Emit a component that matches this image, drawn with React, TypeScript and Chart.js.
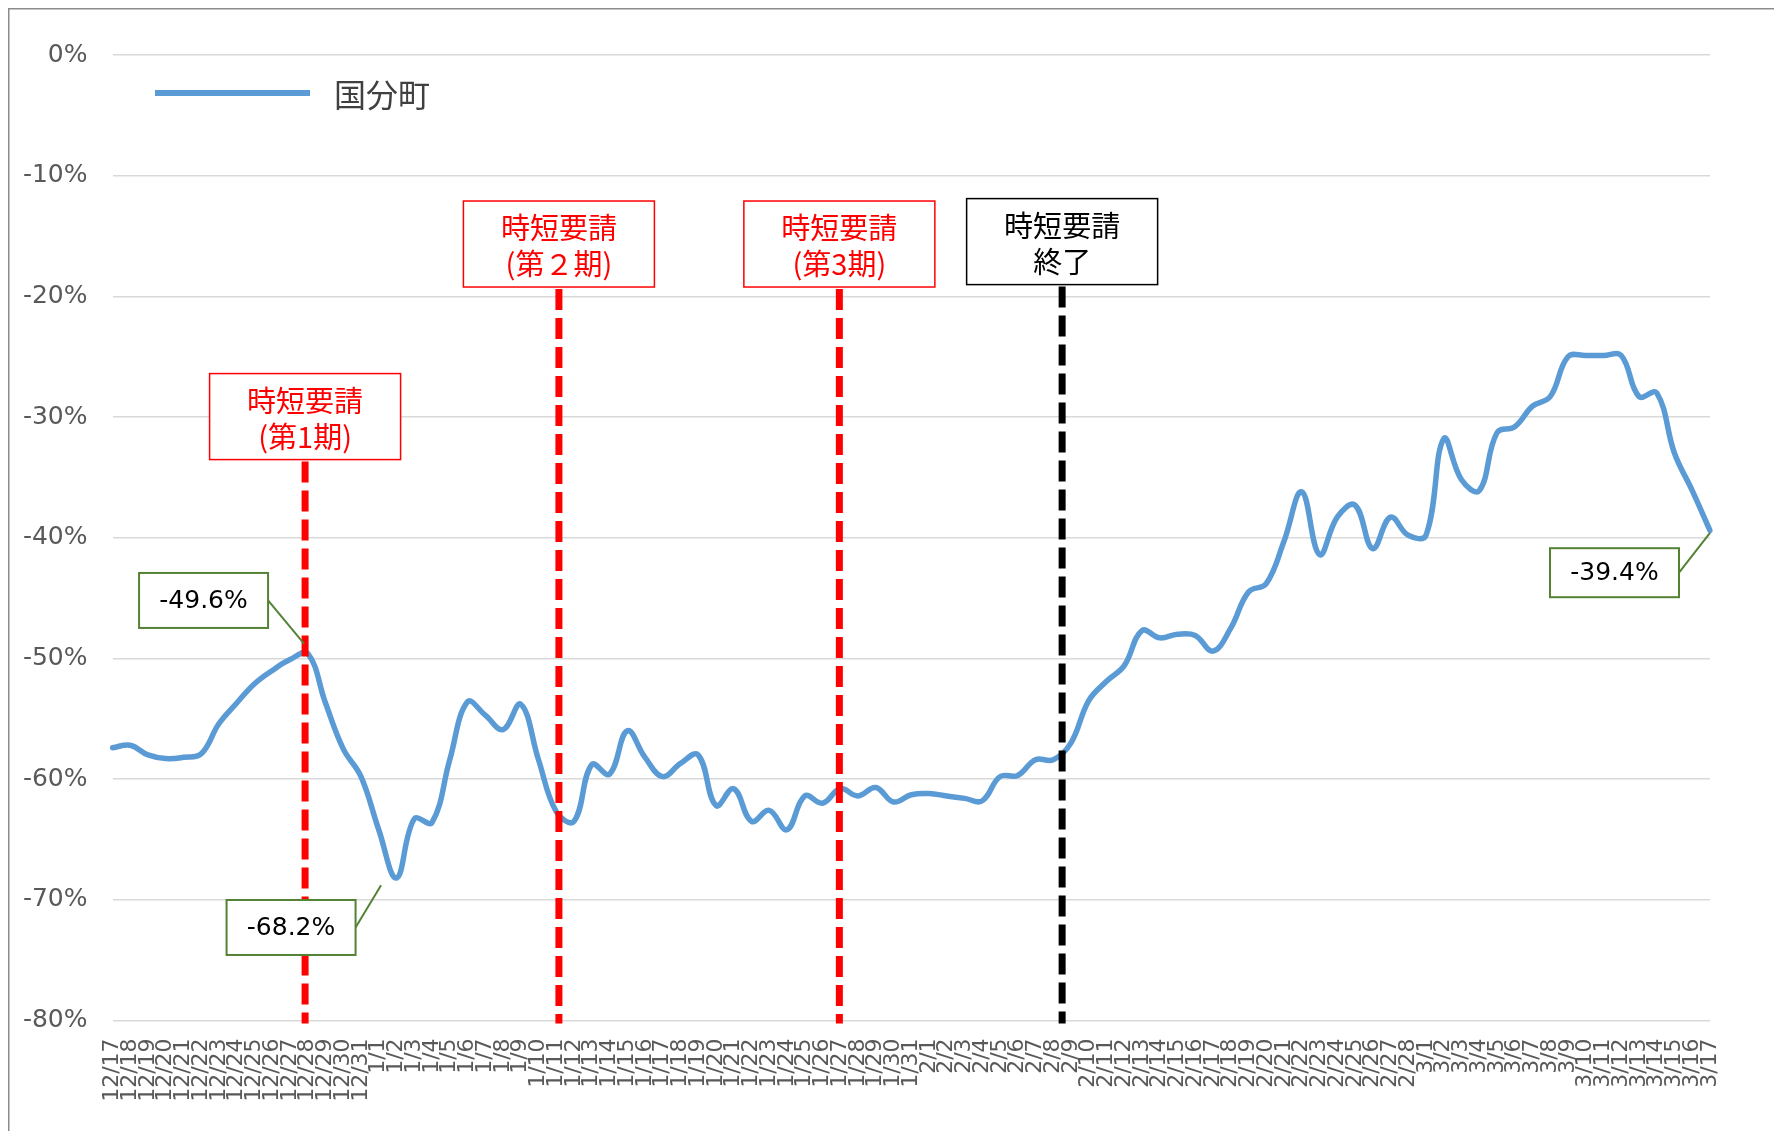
import React, { useEffect, useRef } from "react";
import { Chart, registerables } from "chart.js";

Chart.register(...registerables);

// ---------- data ----------
const dates: string[] = [
  "12/17", "12/18", "12/19", "12/20", "12/21", "12/22", "12/23", "12/24", "12/25", "12/26",
  "12/27", "12/28", "12/29", "12/30", "12/31",
  "1/1", "1/2", "1/3", "1/4", "1/5", "1/6", "1/7", "1/8", "1/9", "1/10",
  "1/11", "1/12", "1/13", "1/14", "1/15", "1/16", "1/17", "1/18", "1/19", "1/20",
  "1/21", "1/22", "1/23", "1/24", "1/25", "1/26", "1/27", "1/28", "1/29", "1/30", "1/31",
  "2/1", "2/2", "2/3", "2/4", "2/5", "2/6", "2/7", "2/8", "2/9", "2/10",
  "2/11", "2/12", "2/13", "2/14", "2/15", "2/16", "2/17", "2/18", "2/19", "2/20",
  "2/21", "2/22", "2/23", "2/24", "2/25", "2/26", "2/27", "2/28",
  "3/1", "3/2", "3/3", "3/4", "3/5", "3/6", "3/7", "3/8", "3/9", "3/10",
  "3/11", "3/12", "3/13", "3/14", "3/15", "3/16", "3/17",
];

const kokubunchoValues: number[] = [
  -57.4, -57.2, -58.0, -58.3, -58.2, -57.9, -55.4, -53.7, -52.1, -51.0,
  -50.1, -49.6, -53.7, -57.5, -59.8,
  -64.2, -68.2, -63.3, -63.6, -58.4, -53.6, -54.7, -55.9, -53.8, -58.4,
  -62.7, -63.5, -58.8, -59.6, -56.0, -58.2, -59.8, -58.7, -58.0, -62.2,
  -60.8, -63.5, -62.6, -64.2, -61.4, -62.0, -60.8, -61.4, -60.7, -61.9, -61.3,
  -61.2, -61.4, -61.6, -61.8, -59.8, -59.7, -58.4, -58.4, -57.0, -53.5,
  -51.9, -50.6, -47.7, -48.3, -48.0, -48.1, -49.4, -47.5, -44.5, -43.8,
  -40.3, -36.2, -41.4, -38.3, -37.3, -40.9, -38.3, -39.8,
  -39.8, -31.8, -35.2, -36.1, -31.3, -30.8, -29.1, -28.3, -25.0, -24.9,
  -24.9, -24.9, -28.3, -28.0, -33.0, -36.1, -39.4,
];

const seriesName = "国分町";

const yMin = -80;
const yMax = 0;
const yStep = 10;

// event markers: category position, label lines, colour, box top (value units)
const eventPositions: number[] = [10.85, 25.15, 40.95, 53.5];
const eventLabels: string[][] = [
  ["時短要請", "(第1期)"],
  ["時短要請", "(第２期)"],
  ["時短要請", "(第3期)"],
  ["時短要請", "終了"],
];
const eventColors: string[] = ["#ff0000", "#ff0000", "#ff0000", "#000000"];
const eventBoxTops: number[] = [-26.4, -12.1, -12.1, -11.9];

// callouts: which data point, where the box sits (category, value)
const calloutIndices: number[] = [11, 16, 90];
const calloutBoxX: number[] = [5.13, 10.06, 84.62];
const calloutBoxY: number[] = [-45.2, -72.3, -42.9];
const calloutBoxH: number[] = [55, 55, 49];
const calloutTargetX: number[] = [10.8, 15.13, 90];
const calloutTargetY: number[] = [-48.8, -68.8, -39.6];

// ---------- styles ----------
const LINE_COLOR = "#5b9bd5";
const GRID_COLOR = "#d9d9d9";
const TICK_COLOR = "#595959";
const GREEN = "#548235";
const LATIN = '"DejaVu Sans", "Noto Sans CJK JP", sans-serif';
const CJK = '"Noto Sans CJK JP", "DejaVu Sans", sans-serif';

const decorPlugin = {
  id: "decor",
  beforeDraw(chart: any) {
    const ctx = chart.ctx as CanvasRenderingContext2D;
    ctx.save();
    ctx.fillStyle = "#ffffff";
    ctx.fillRect(0, 0, chart.width, chart.height);
    ctx.strokeStyle = "#8c8c8c";
    ctx.lineWidth = 1.5;
    ctx.beginPath();
    ctx.moveTo(8.75, chart.height + 5);
    ctx.lineTo(8.75, 8.75);
    ctx.lineTo(chart.width + 5, 8.75);
    ctx.stroke();
    ctx.restore();
  },
  afterDatasetsDraw(chart: any) {
    const ctx = chart.ctx as CanvasRenderingContext2D;
    const { x, y } = chart.scales;
    const area = chart.chartArea;

    // legend
    ctx.save();
    ctx.strokeStyle = LINE_COLOR;
    ctx.lineWidth = 6;
    ctx.lineCap = "butt";
    ctx.beginPath();
    ctx.moveTo(155, 93);
    ctx.lineTo(310, 93);
    ctx.stroke();
    ctx.fillStyle = "#404040";
    ctx.font = `32px ${CJK}`;
    ctx.textAlign = "left";
    ctx.textBaseline = "middle";
    ctx.fillText(seriesName, 334, 95);
    ctx.restore();

    // event markers
    const bw = 191;
    const bh = 86;
    eventPositions.forEach((pos, k) => {
      const cx = x.getPixelForValue(pos);
      const top = y.getPixelForValue(eventBoxTops[k]);
      const color = eventColors[k];
      ctx.save();
      ctx.strokeStyle = color;
      ctx.lineWidth = 7;
      ctx.lineCap = "butt";
      ctx.setLineDash([21, 8]);
      ctx.beginPath();
      ctx.moveTo(cx, top + bh + 2);
      ctx.lineTo(cx, area.bottom + 3);
      ctx.stroke();
      ctx.setLineDash([]);
      ctx.fillStyle = "#ffffff";
      ctx.fillRect(cx - bw / 2, top, bw, bh);
      ctx.lineWidth = 1.5;
      ctx.strokeRect(cx - bw / 2, top, bw, bh);
      ctx.fillStyle = color;
      ctx.font = `29px ${CJK}`;
      ctx.textAlign = "center";
      ctx.textBaseline = "middle";
      ctx.fillText(eventLabels[k][0], cx, top + 27);
      ctx.fillText(eventLabels[k][1], cx, top + 63);
      ctx.restore();
    });

    // callouts
    const cw = 129;
    calloutIndices.forEach((idx, k) => {
      const ch = calloutBoxH[k];
      const bx = x.getPixelForValue(calloutBoxX[k]);
      const by = y.getPixelForValue(calloutBoxY[k]);
      const tx = x.getPixelForValue(calloutTargetX[k]);
      const ty = y.getPixelForValue(calloutTargetY[k]);
      ctx.save();
      ctx.strokeStyle = GREEN;
      ctx.lineWidth = 2;
      ctx.beginPath();
      ctx.moveTo(bx + cw / 2, by);
      ctx.lineTo(tx, ty);
      ctx.stroke();
      ctx.fillStyle = "#ffffff";
      ctx.fillRect(bx - cw / 2, by - ch / 2, cw, ch);
      ctx.strokeRect(bx - cw / 2, by - ch / 2, cw, ch);
      ctx.fillStyle = "#000000";
      ctx.font = `25px ${LATIN}`;
      ctx.textAlign = "center";
      ctx.textBaseline = "middle";
      ctx.fillText(kokubunchoValues[idx].toFixed(1) + "%", bx, by + 1);
      ctx.restore();
    });
  },
};

export default function App() {
  const canvasRef = useRef<HTMLCanvasElement | null>(null);

  useEffect(() => {
    document.body.style.margin = "0";
    document.body.style.overflow = "hidden";
    const canvas = canvasRef.current;
    if (!canvas) return;
    const chart = new Chart(canvas, {
      type: "line",
      data: {
        labels: dates,
        datasets: [
          {
            label: seriesName,
            data: kokubunchoValues,
            borderColor: LINE_COLOR,
            borderWidth: 5.5,
            pointRadius: 0,
            tension: 0.4,
            fill: false,
            borderCapStyle: "round",
            borderJoinStyle: "round",
          },
        ],
      },
      options: {
        responsive: false,
        animation: false,
        devicePixelRatio: 1,
        layout: { padding: { left: 0, right: 64, top: 55, bottom: 0 } },
        plugins: {
          legend: { display: false },
          tooltip: { enabled: false },
        },
        scales: {
          x: {
            type: "category",
            offset: false,
            grid: { display: false, drawTicks: false },
            border: { display: false },
            ticks: {
              autoSkip: false,
              minRotation: 90,
              maxRotation: 90,
              padding: 18,
              color: TICK_COLOR,
              font: { family: LATIN, size: 22 },
            },
            afterFit: (scale: any) => {
              scale.height = 110.6;
            },
          },
          y: {
            min: yMin,
            max: yMax,
            grid: { color: GRID_COLOR, lineWidth: 1.5, drawTicks: false },
            border: { display: false },
            ticks: {
              stepSize: yStep,
              padding: 25,
              color: TICK_COLOR,
              font: { family: LATIN, size: 25 },
              callback: (v: any) => `${v}%`,
            },
            afterFit: (scale: any) => {
              scale.width = 112.5;
            },
          },
        },
      },
      plugins: [decorPlugin],
    } as any);
    return () => chart.destroy();
  }, []);

  return (
    <div style={{ position: "fixed", left: 0, top: 0, width: 1774, height: 1131, overflow: "hidden", background: "#fff" }}>
      <canvas ref={canvasRef} width={1774} height={1131} style={{ display: "block", width: 1774, height: 1131 }} />
    </div>
  );
}
